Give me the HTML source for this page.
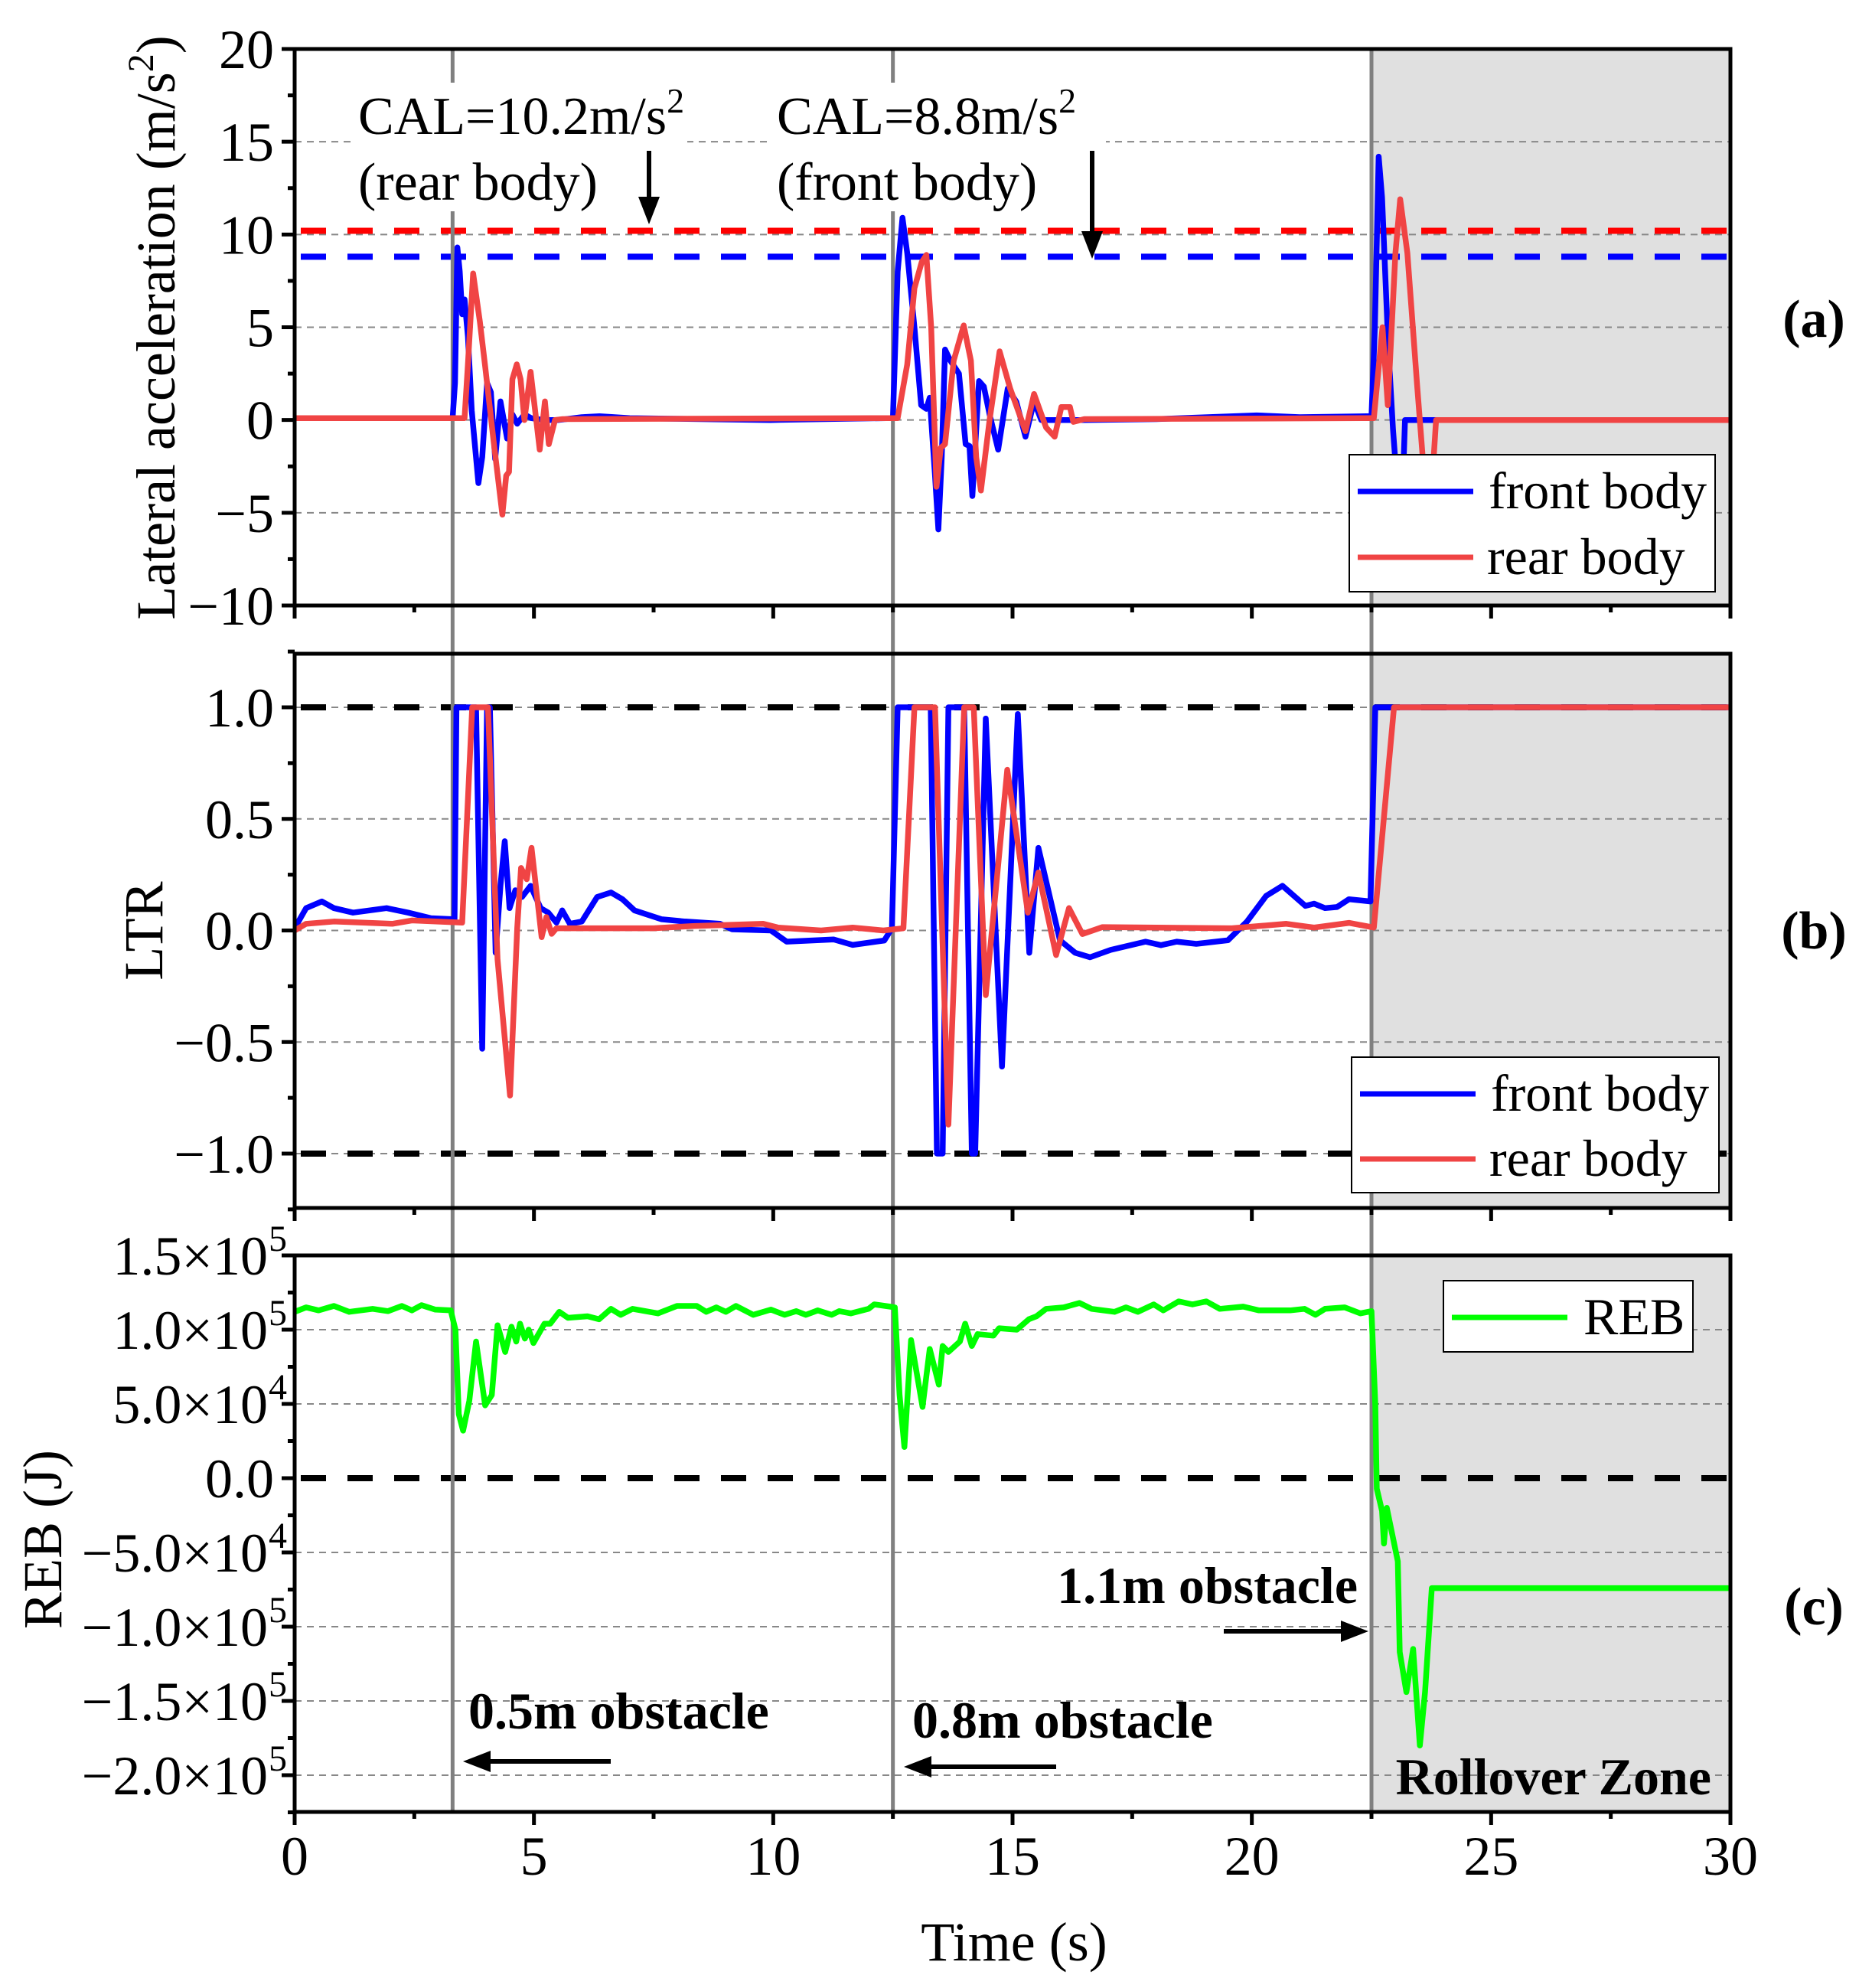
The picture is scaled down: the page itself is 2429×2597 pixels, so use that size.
<!DOCTYPE html>
<html><head><meta charset="utf-8"><style>
html,body{margin:0;padding:0;background:#fff}
svg{display:block}
text{font-family:"Liberation Serif","Times New Roman",serif;fill:#000}
</style></head><body>
<svg id="chart" xmlns="http://www.w3.org/2000/svg" width="2429" height="2597" viewBox="0 0 2429 2597">
<defs>
<clipPath id="clipA"><rect x="385" y="64" width="1876" height="727"/></clipPath>
<clipPath id="clipB"><rect x="385" y="854" width="1876" height="724"/></clipPath>
<clipPath id="clipC"><rect x="385" y="1640" width="1876" height="727"/></clipPath>
</defs>
<g id="bg"></g>
<g id="grid"></g>
<g id="refs"></g>
<g id="series"></g>
<g id="axes"></g>
<g id="annot"></g>
</svg>
<script>
// ---- data ----
const xTicks = [0,5,10,15,20,25,30];
const aTicks = [20,15,10,5,0,-5,-10];
const bTicks = [1.0,0.5,0.0,-0.5,-1.0];
const bTickLabels = ["1.0","0.5","0.0","\u22120.5","\u22121.0"];
const cTicks = [1.5,1.0,0.5,0,-0.5,-1.0,-1.5,-2.0];
const cTickMant = ["1.5","1.0","5.0","0.0","\u22125.0","\u22121.0","\u22121.5","\u22122.0"];
const cTickExp = ["5","5","4","","4","5","5","5"];
const eventTimes = [3.3,12.5,22.5];
const rolloverStart = 22.5;
const calRear = 10.2, calFront = 8.8;

const accFrontT = [0,3.3,3.35,3.4,3.45,3.5,3.55,3.62,3.7,3.84,3.92,4.02,4.1,4.19,4.3,4.44,4.55,4.65,4.8,4.94,5.2,5.51,6.0,6.37,7.0,9.94,12.36,12.5,12.6,12.7,12.8,12.95,13.09,13.2,13.27,13.38,13.45,13.52,13.59,13.7,13.88,14.02,14.1,14.16,14.3,14.4,14.52,14.7,14.9,15.08,15.27,15.45,15.6,16.5,18,20.1,21,22.4,22.5,22.57,22.65,22.72,22.85,22.95,23.05,23.15,23.2,30];
const accFrontV = [0.1,0.1,2,9.3,8,5.7,6.5,4.5,0.5,-3.4,-2,2.0,1.5,-2.1,1.0,-1.0,0.3,-0.2,0.3,0.1,0,0,0.15,0.2,0.1,0,0.1,0.1,8,10.9,9,5.0,0.8,0.6,1.2,-3,-5.9,-2,3.8,3.2,2.5,-1.3,-1.4,-4.1,2.1,1.8,0.3,-1.6,1.7,0.98,-0.9,1.0,0,0,0.05,0.25,0.15,0.2,0.2,5,14.2,12,4,-0.5,-4,-4,0,0];
const accRearT = [0,3.55,3.62,3.73,3.87,3.98,4.16,4.34,4.42,4.48,4.55,4.64,4.72,4.8,4.93,5.12,5.23,5.31,5.44,5.6,12.6,12.8,12.95,13.1,13.2,13.3,13.41,13.5,13.59,13.77,13.98,14.13,14.24,14.34,14.52,14.73,14.95,15.27,15.45,15.7,15.88,16.02,16.2,16.27,16.5,22.55,22.73,22.84,23.0,23.1,23.25,23.45,23.6,23.75,23.85,30];
const accRearV = [0.1,0.1,3,7.9,5.3,2.9,-1.2,-5.1,-3,-2.8,2.2,3.0,2.2,0.0,2.6,-1.6,1.0,-1.3,0,0.05,0.1,3.0,7.1,8.5,8.9,5.0,-3.6,-1.5,-1.3,3.2,5.1,3.2,-2,-3.8,0,3.7,1.7,-0.6,1.4,-0.4,-0.9,0.7,0.7,-0.1,0.05,0.1,5.0,0.8,9,11.9,9,2,-3,-4,0,0];

const ltrFrontT = [0,0.24,0.57,0.82,1.22,1.92,2.37,2.85,3.34,3.38,3.79,3.92,4.02,4.08,4.2,4.3,4.39,4.49,4.61,4.75,4.93,5.14,5.3,5.47,5.59,5.75,6.0,6.32,6.61,6.85,7.1,7.67,8.16,8.89,9.14,9.95,10.28,11.26,11.66,12.32,12.48,12.6,13.29,13.42,13.54,13.66,13.99,14.15,14.22,14.44,14.78,15.11,15.35,15.54,15.99,16.31,16.62,17.05,17.78,18.1,18.43,18.84,19.5,19.9,20.3,20.64,21.12,21.3,21.53,21.78,22.03,22.48,22.58,30];
const ltrFrontV = [0.01,0.1,0.13,0.1,0.08,0.1,0.08,0.055,0.05,1,1,-0.53,1,1,-0.1,0.2,0.4,0.1,0.18,0.15,0.2,0.1,0.08,0.035,0.09,0.03,0.04,0.15,0.17,0.14,0.09,0.05,0.04,0.03,0.005,0,-0.05,-0.04,-0.065,-0.045,0.01,1,1,-1,-1,1,1,-1,-1,0.95,-0.61,0.97,-0.1,0.37,-0.044,-0.1,-0.12,-0.087,-0.05,-0.066,-0.05,-0.06,-0.044,0.04,0.155,0.2,0.11,0.12,0.1,0.105,0.14,0.13,1,1];
const ltrRearT = [0,0.24,0.82,2.04,2.45,3.5,3.71,4.04,4.24,4.5,4.65,4.73,4.85,4.95,5.16,5.26,5.37,5.47,7.5,8.32,9.79,10.1,11.0,11.66,12.3,12.72,12.95,13.38,13.66,13.99,14.19,14.44,14.89,15.32,15.54,15.91,16.18,16.46,16.88,19.58,20.72,21.3,22.03,22.55,22.97,30];
const ltrRearV = [0,0.03,0.04,0.03,0.045,0.035,1,1,-0.13,-0.74,0.01,0.28,0.23,0.37,-0.03,0.06,-0.015,0.01,0.01,0.02,0.03,0.013,0,0.013,0,0.01,1,1,-0.87,1,1,-0.29,0.72,0.08,0.26,-0.11,0.1,-0.016,0.015,0.01,0.03,0.013,0.034,0.013,1,1];

// REB in units of 1e5 J
const rebT = [0,0.24,0.5,0.82,1.14,1.63,1.95,2.24,2.45,2.65,2.94,3.26,3.36,3.43,3.52,3.65,3.79,3.98,4.12,4.24,4.4,4.53,4.63,4.71,4.81,4.89,4.99,5.22,5.34,5.53,5.71,6.12,6.36,6.61,6.81,7.06,7.59,7.99,8.4,8.6,8.81,9.01,9.22,9.58,9.95,10.24,10.48,10.68,10.93,11.22,11.38,11.62,11.99,12.11,12.44,12.54,12.64,12.74,12.88,13.12,13.27,13.46,13.54,13.66,13.9,14.01,14.15,14.27,14.6,14.72,15.09,15.34,15.5,15.7,16.07,16.4,16.65,17.13,17.37,17.62,17.95,18.15,18.47,18.76,19.05,19.33,19.82,20.15,20.8,21.1,21.33,21.53,21.94,22.27,22.5,22.58,22.61,22.72,22.76,22.82,23.05,23.09,23.23,23.37,23.51,23.62,23.76,30];
const rebV = [1.12,1.15,1.13,1.16,1.12,1.14,1.125,1.16,1.13,1.165,1.135,1.13,1.0,0.43,0.32,0.52,0.92,0.49,0.56,1.03,0.85,1.02,0.92,1.04,0.94,1.0,0.91,1.04,1.04,1.12,1.08,1.09,1.07,1.14,1.10,1.14,1.11,1.16,1.16,1.12,1.15,1.12,1.16,1.1,1.135,1.1,1.125,1.1,1.13,1.1,1.125,1.11,1.14,1.17,1.155,1.15,0.56,0.21,0.93,0.48,0.87,0.63,0.89,0.85,0.92,1.04,0.89,0.97,0.96,1.01,1.0,1.07,1.09,1.14,1.15,1.18,1.14,1.12,1.15,1.12,1.17,1.13,1.19,1.17,1.19,1.14,1.155,1.13,1.13,1.14,1.1,1.14,1.15,1.11,1.125,0.494,-0.07,-0.22,-0.44,-0.2,-0.56,-1.17,-1.44,-1.15,-1.8,-1.44,-0.74,-0.74];

// ---- axis functions ----
const X0=385, X1=2261;
const xs = t => X0 + t*(X1-X0)/30;
const ya = v => 64 + (20-v)*(727/30);
const yb = v => 1215.5 - v*291.5;
const yc = v => 1931 - v*194;
const panels = [{top:64,bot:791,y:ya},{top:854,bot:1578,y:yb},{top:1640,bot:2367,y:yc}];
const NS="http://www.w3.org/2000/svg";
function mk(tag, attrs, parent){const e=document.createElementNS(NS,tag);for(const k in attrs)e.setAttribute(k,attrs[k]);parent.appendChild(e);return e;}
const G=id=>document.getElementById(id);

panels.forEach((p,i)=>{
  const r=mk('rect',{x:xs(rolloverStart),y:p.top,width:X1-xs(rolloverStart),height:p.bot-p.top,fill:'#e0e0e0'},G('bg'));
  
  
});
function hgrid(y){const l=mk('line',{x1:X0,x2:X1,y1:y,y2:y,stroke:'#888',"stroke-width":2,"stroke-dasharray":"9 7"},G('grid'));
 
 }
[15,10,5,0,-5].forEach(v=>hgrid(ya(v)));
[0.5,0,-0.5,1,-1].forEach(v=>hgrid(yb(v)));
[1.0,0.5,-0.5,-1.0,-1.5,-2.0].forEach(v=>hgrid(yc(v)));
function dline(y,col,name){const l=mk('line',{x1:X0+8,x2:X1,y1:y,y2:y,stroke:col,"stroke-width":8,"stroke-dasharray":"33 28"},G('refs'));
 
 }
dline(ya(calRear),'#ff0000','cal-rear-threshold');
dline(ya(calFront),'#0000ff','cal-front-threshold');
dline(yb(1),'#000','ltr-upper-limit');
dline(yb(-1),'#000','ltr-lower-limit');
dline(yc(0),'#000','reb-zero-line');
eventTimes.forEach(t=>{const l=mk('line',{x1:xs(t),x2:xs(t),y1:64,y2:2367,stroke:'#808080',"stroke-width":5},G('refs'));
 
 });
function series(T,V,yf,col,clip,name){
  const d=T.map((t,i)=>(i?'L':'M')+xs(t).toFixed(1)+' '+yf(V[i]).toFixed(1)).join(' ');
  const p=mk('path',{d:d,fill:'none',stroke:col,"stroke-width":7.5,"stroke-linejoin":"round","clip-path":'url(#'+clip+')'},G('series'));
  
  
}
series(accFrontT,accFrontV,ya,'#0000ff','clipA','front-body-acceleration-line');
series(accRearT,accRearV,ya,'#f04444','clipA','rear-body-acceleration-line');
series(ltrFrontT,ltrFrontV,yb,'#0000ff','clipB','front-body-ltr-line');
series(ltrRearT,ltrRearV,yb,'#f04444','clipB','rear-body-ltr-line');
series(rebT,rebV,yc,'#00ff00','clipC','reb-line');

const ax=G('axes');
panels.forEach((p,i)=>{
  const r=mk('rect',{x:X0,y:p.top,width:X1-X0,height:p.bot-p.top,fill:'none',stroke:'#000',"stroke-width":5},ax);
  
  
  for(let t=0;t<=30;t+=2.5){const maj=(t%5===0);
    const l=mk('line',{x1:xs(t),x2:xs(t),y1:p.bot,y2:p.bot+(maj?17:9),stroke:'#000',"stroke-width":5},ax);
    
    }
});
function yt(y,maj){const l=mk('line',{x1:X0-(maj?17:9),x2:X0,y1:y,y2:y,stroke:'#000',"stroke-width":5},ax);
 
 }
for(let v=20;v>=-10;v-=2.5)yt(ya(v),v%5===0);
for(let v=1.25;v>=-1.25;v-=0.25){const k=Math.round(v*100);if(k<=125&&k>=-125)yt(yb(v),k%50===0);}
for(let v=1.5;v>=-2.25;v-=0.25){const k=Math.round(v*100);yt(yc(v),k%50===0);}
function txt(s,x,y,size,anchor,parent,name,weight){const e=mk('text',{x:x,y:y,"font-size":size,"text-anchor":anchor||'start'},parent||ax);
 if(weight)e.setAttribute('font-weight',weight);
 e.textContent=s;
 
 return e;}
aTicks.forEach(v=>txt(v<0?'\u2212'+(-v):String(v),358,ya(v)+25,72,'end',ax,'y-tick-label-a'));
bTicks.forEach((v,i)=>txt(bTickLabels[i],358,yb(v)+25,72,'end',ax,'y-tick-label-b'));
cTicks.forEach((v,i)=>{txt(cTickMant[i]+(cTickExp[i]?'\u00d710':''),cTickExp[i]?350:358,yc(v)+25,72,'end',ax,'y-tick-label-c');
  if(cTickExp[i]){txt(cTickExp[i],351,yc(v)-6,48,'start',ax,'y-tick-exponent');}});
xTicks.forEach(t=>txt(String(t),xs(t),2449,72,'middle',ax,'x-tick-label'));
txt('Time (s)',1325,2561,72,'middle',ax,'x-axis-title');
let e=txt('',0,0,72,'middle',ax,'y-axis-title-a');e.setAttribute('transform','translate(228 428) rotate(-90)');
e.innerHTML='Lateral acceleration (m/s<tspan font-size="48" dy="-28">2</tspan><tspan dy="28">)</tspan>';
e=txt('LTR',0,0,72,'middle',ax,'y-axis-title-b');e.setAttribute('transform','translate(212 1216) rotate(-90)');
e=txt('REB (J)',0,0,72,'middle',ax,'y-axis-title-c');e.setAttribute('transform','translate(80 2011) rotate(-90)');

const an=G('annot');
function wrect(x,y,w,h){const r=mk('rect',{x:x,y:y,width:w,height:h,fill:'#fff'},an);}
wrect(458,108,440,168); wrect(1005,108,440,168);
e=txt('',468,175,70,'start',an,'cal-rear-label');e.innerHTML='CAL=10.2m/s<tspan font-size="46" dy="-28">2</tspan>';
txt('(rear body)',468,261,70,'start',an,'cal-rear-body-label');
e=txt('',1015,175,70,'start',an,'cal-front-label');e.innerHTML='CAL=8.8m/s<tspan font-size="46" dy="-28">2</tspan>';
txt('(front body)',1015,261,70,'start',an,'cal-front-body-label');
function arrow(x1,y1,x2,y2,name){const dx=x2-x1,dy=y2-y1,L=Math.hypot(dx,dy),ux=dx/L,uy=dy/L,hl=36,hw=14;
 const bx=x2-ux*hl,by=y2-uy*hl;
 const l=mk('line',{x1:x1,y1:y1,x2:bx,y2:by,stroke:'#000',"stroke-width":6},an);
 
 
 const p=mk('polygon',{points:`${x2},${y2} ${bx-uy*hw},${by+ux*hw} ${bx+uy*hw},${by-ux*hw}`,fill:'#000'},an);
 
 }
arrow(848,197,848,293,'cal-rear-arrow');
arrow(1427,197,1427,338,'cal-front-arrow');
txt('0.5m obstacle',612,2258,68,'start',an,'obstacle-05-label','bold');
arrow(798,2301,605,2301,'obstacle-05-arrow');
txt('0.8m obstacle',1192,2270,68,'start',an,'obstacle-08-label','bold');
arrow(1380,2308,1181,2308,'obstacle-08-arrow');
txt('1.1m obstacle',1774,2094,68,'end',an,'obstacle-11-label','bold');
arrow(1599,2131,1788,2131,'obstacle-11-arrow');
txt('Rollover Zone',2236,2344,68,'end',an,'rollover-zone-label','bold');
txt('(a)',2370,440,70,'middle',an,'panel-label-a','bold');
txt('(b)',2370,1239,70,'middle',an,'panel-label-b','bold');
txt('(c)',2370,2122,70,'middle',an,'panel-label-c','bold');
function legend(x,y,w,h,items,name){
 const g=mk('g',{},an);
 mk('rect',{x:x,y:y,width:w,height:h,fill:'#fff',stroke:'#000',"stroke-width":2},g);
 items.forEach(it=>{const l=mk('line',{x1:x+11,x2:x+162,y1:it.y,y2:it.y,stroke:it.c,"stroke-width":7},g);
   
   
   txt(it.t,x+it.tx,it.y+22,68,'start',g,'legend-entry');});
}
legend(1763,594,478,179,[{y:642,c:'#0000ff',t:'front body',tx:182},{y:728,c:'#f04444',t:'rear body',tx:180}],'legend-a');
legend(1766,1381,480,177,[{y:1429,c:'#0000ff',t:'front body',tx:182},{y:1514,c:'#f04444',t:'rear body',tx:180}],'legend-b');
legend(1886,1673,326,93,[{y:1721,c:'#00ff00',t:'REB',tx:183}],'legend-c');
</script>
</body></html>
